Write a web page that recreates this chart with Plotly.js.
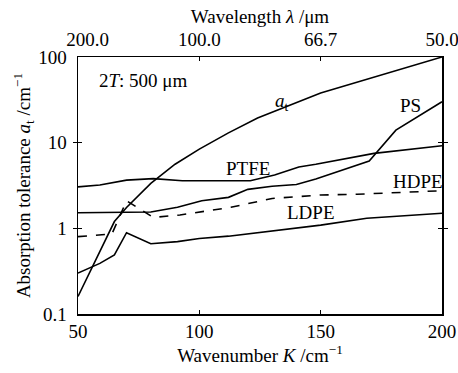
<!DOCTYPE html>
<html><head><meta charset="utf-8">
<script src="https://cdn.plot.ly/plotly-3.0.1.min.js"></script>
<style>body{margin:0;background:#fff}#c{width:458px;height:373px}</style>
</head><body><div id="c"></div>
<script>
const atK = [50, 55, 60, 65, 70, 80, 90, 100, 112, 124, 150, 175, 200];
const atV = [0.16, 0.31, 0.62, 1.2, 1.75, 3.35, 5.6, 8.4, 13, 19.4, 38, 62, 100];
const ptfeK = [50, 59, 70, 81, 93, 121, 131, 141, 148, 172, 200];
const ptfeV = [3.05, 3.2, 3.65, 3.8, 3.6, 3.6, 4.2, 5.2, 5.6, 7.5, 9.2];
const psK = [50, 80, 91, 101, 112, 120, 130, 140, 148, 170, 181, 200];
const psV = [1.52, 1.55, 1.76, 2.1, 2.3, 2.85, 3.1, 3.25, 3.76, 6.1, 14, 30];
const hdpeK = [50, 64, 70, 81, 92, 113, 130, 150, 165, 200];
const hdpeV = [0.8, 0.86, 2.1, 1.34, 1.43, 1.76, 2.23, 2.45, 2.5, 2.75];
const ldpeK = [50, 59, 65, 70, 80, 91, 100, 112, 150, 169, 200];
const ldpeV = [0.30, 0.39, 0.49, 0.89, 0.66, 0.70, 0.76, 0.81, 1.09, 1.31, 1.50];
const xTicks = [50, 100, 150, 200];
const xTickText = ['50', '100', '150', '200'];
const topTickText = ['200.0', '100.0', '66.7', '50.0'];
const yTicks = [0.1, 1, 10, 100];
const yTickText = ['0.1', '1', '10', '100'];

const F = 'Liberation Serif';
const S = 19;
const line = (x, y, dash) => ({x, y, type: 'scatter', mode: 'lines', line: {color: '#000', width: 1.6, dash: dash || 'solid'}, showlegend: false, hoverinfo: 'skip'});
const data = [line(atK, atV), line(ptfeK, ptfeV), line(psK, psV), line(hdpeK, hdpeV, 'dash'), line(ldpeK, ldpeV)];
data.push({x: [50, 200], y: [1, 1], xaxis: 'x2', type: 'scatter', mode: 'markers', marker: {opacity: 0}, showlegend: false, hoverinfo: 'skip'});

// first top label is nudged right (as in the reference) so it clears the "100" label
const topLabels = topTickText.map((t, i) => i === 0 ? '\u2007\u2007' + t : t);

const ax = {showgrid: false, zeroline: false, showline: true, linecolor: '#000', linewidth: 1.5, ticks: 'inside', ticklen: 4, tickcolor: '#000', ticklabeloverflow: 'allow', tickfont: {family: F, size: S, color: '#000'}};
const layout = {
  width: 458, height: 373,
  margin: {l: 78, r: 16, t: 57, b: 59},
  paper_bgcolor: '#fff', plot_bgcolor: '#fff',
  font: {family: F, size: S, color: '#000'},
  xaxis: Object.assign({}, ax, {range: [50, 200], tickvals: xTicks, ticktext: xTickText, mirror: true,
    title: {text: 'Wavenumber <i>K</i> /cm<sup>−1</sup>', font: {family: F, size: S}, standoff: 6}}),
  xaxis2: Object.assign({}, ax, {overlaying: 'x', side: 'top', range: [50, 200], tickvals: xTicks, ticktext: topLabels, anchor: 'y', ticklabelstandoff: 2,
    title: {text: 'Wavelength <i>λ</i> /μm', font: {family: F, size: S}, standoff: 0}}),
  yaxis: Object.assign({}, ax, {type: 'log', range: [-1, 2], tickvals: yTicks, ticktext: yTickText, mirror: 'allticks', ticklabelstandoff: 6,
    title: {text: 'Absorption tolerance <i>a</i><sub>t</sub> /cm<sup>−1</sup>', font: {family: F, size: S}, standoff: 2}}),
  annotations: [
    {x: 57.8, y: Math.log10(53), text: '2<i>T</i>: 500 μm', showarrow: false, xanchor: 'left', font: {family: F, size: S}},
    {x: 134, y: Math.log10(30), text: '<i>a</i><sub>t</sub>', showarrow: false, font: {family: F, size: S}},
    {x: 187, y: Math.log10(27), text: 'PS', showarrow: false, font: {family: F, size: S}},
    {x: 120, y: Math.log10(5.0), text: 'PTFE', showarrow: false, font: {family: F, size: S}},
    {x: 190, y: Math.log10(3.5), text: 'HDPE', showarrow: false, font: {family: F, size: S}},
    {x: 146, y: Math.log10(1.52), text: 'LDPE', showarrow: false, font: {family: F, size: S}}
  ]
};
Plotly.newPlot('c', data, layout, {staticPlot: true, displayModeBar: false});
</script></body></html>
